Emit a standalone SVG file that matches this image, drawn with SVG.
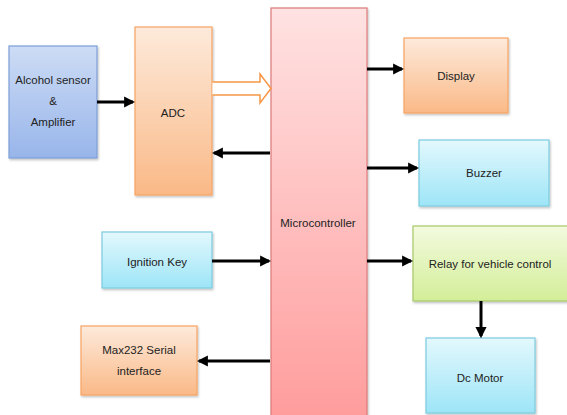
<svg xmlns="http://www.w3.org/2000/svg" width="567" height="415" viewBox="0 0 567 415">
<style>
text{font-family:"Liberation Sans",Arial,sans-serif;font-size:11.5px;fill:#222;text-anchor:middle}
.box{stroke-width:1.2;filter:url(#sh)}
.c{stroke:#000;stroke-width:3;fill:none;marker-end:url(#ah)}
</style>
<defs>
<filter id="sh" x="-10%" y="-10%" width="130%" height="130%"><feDropShadow dx="1" dy="1.5" stdDeviation="1" flood-color="#000" flood-opacity="0.25"/></filter>
<marker id="ah" viewBox="0 0 10 10" refX="8" refY="5" markerWidth="3.7" markerHeight="3.7" orient="auto"><path d="M0,0L10,5L0,10z" fill="#000"/></marker>
<linearGradient id="gb" x1="0" y1="0" x2="0" y2="1"><stop offset="0" stop-color="#cddcf5"/><stop offset="1" stop-color="#98b5ea"/></linearGradient>
<linearGradient id="go" x1="0" y1="0" x2="0" y2="1"><stop offset="0" stop-color="#fdeadb"/><stop offset="1" stop-color="#fab987"/></linearGradient>
<linearGradient id="gp" x1="0" y1="0" x2="0" y2="1"><stop offset="0" stop-color="#ffe2e2"/><stop offset="1" stop-color="#ff9c9c"/></linearGradient>
<linearGradient id="gc" x1="0" y1="0" x2="0" y2="1"><stop offset="0" stop-color="#e3f8fd"/><stop offset="1" stop-color="#9de5f7"/></linearGradient>
<linearGradient id="gg" x1="0" y1="0" x2="0" y2="1"><stop offset="0" stop-color="#f3fadf"/><stop offset="1" stop-color="#d3ee98"/></linearGradient>
</defs>
<g id="alcohol"><rect class="box" x="9" y="46" width="88" height="112" fill="url(#gb)" stroke="#7e9fd8"/><text x="53" y="84">Alcohol sensor</text><text x="53" y="105">&amp;</text><text x="53" y="126">Amplifier</text></g>
<g id="adc"><rect class="box" x="135" y="27" width="77" height="168" fill="url(#go)" stroke="#f7a463"/><text x="173" y="117">ADC</text></g>
<g id="micro"><rect class="box" x="271" y="8" width="96" height="412" fill="url(#gp)" stroke="#dc7b7b"/><text x="318" y="227">Microcontroller</text></g>
<g id="display"><rect class="box" x="404" y="38" width="104" height="75" fill="url(#go)" stroke="#f7a463"/><text x="456" y="80">Display</text></g>
<g id="buzzer"><rect class="box" x="419" y="140" width="130" height="66" fill="url(#gc)" stroke="#7ccbe0"/><text x="484" y="177">Buzzer</text></g>
<g id="ignition"><rect class="box" x="102" y="232" width="110" height="56" fill="url(#gc)" stroke="#7ccbe0"/><text x="157" y="266">Ignition Key</text></g>
<g id="max232"><rect class="box" x="81" y="326" width="116" height="69" fill="url(#go)" stroke="#f7a463"/><text x="139" y="354">Max232 Serial</text><text x="139" y="375">interface</text></g>
<g id="relay"><rect class="box" x="413" y="226" width="156" height="75" fill="url(#gg)" stroke="#a9c96a"/><text x="490" y="268">Relay for vehicle control</text></g>
<g id="dcmotor"><rect class="box" x="426" y="338" width="109" height="75" fill="url(#gc)" stroke="#7ccbe0"/><text x="480" y="382">Dc Motor</text></g>
<g id="connectors">
<path d="M212.5,82 H260 V74 L271,88.5 L260,103 V95 H212.5" fill="#fff" stroke="#f79646" stroke-width="1.5"/>
<path class="c" d="M97,102 H133"/>
<path class="c" d="M270,153 H214"/>
<path class="c" d="M367,69 H402"/>
<path class="c" d="M367,168 H417"/>
<path class="c" d="M212,261 H269"/>
<path class="c" d="M270,361 H199"/>
<path class="c" d="M367,261 H411"/>
<path class="c" d="M481,301 V336"/>
</g>
</svg>
